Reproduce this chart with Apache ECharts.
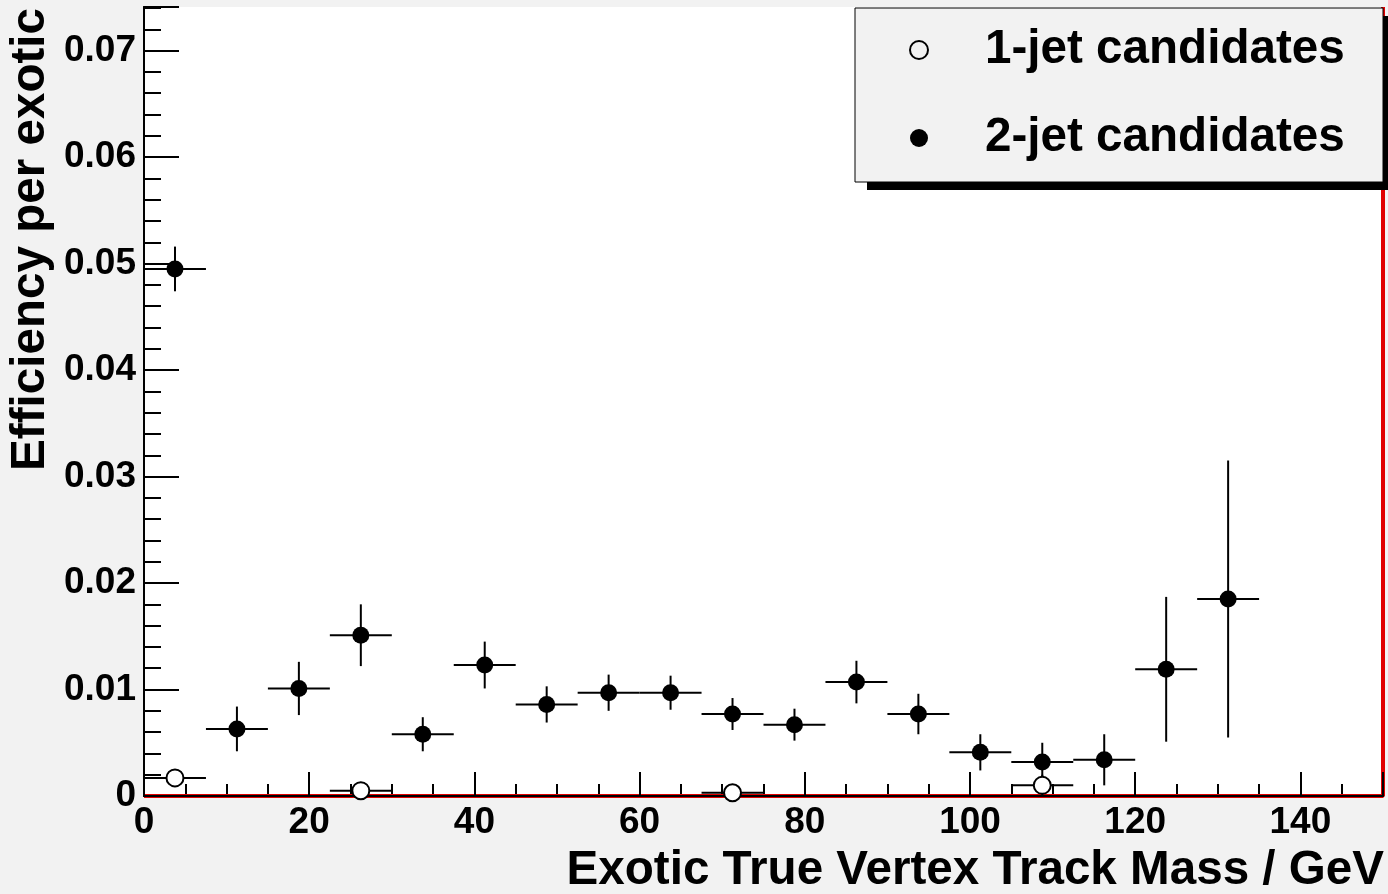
<!DOCTYPE html>
<html><head><meta charset="utf-8">
<script src="https://cdn.jsdelivr.net/npm/echarts@6/dist/echarts.min.js"></script>
<style>html,body{margin:0;padding:0;background:#f2f2f2;}#c{width:1388px;height:894px;}</style>
</head><body><div id="c"></div>
<script>
// ---- data ----
const massCenters2 = [3.75, 11.25, 18.75, 26.25, 33.75, 41.25, 48.75, 56.25, 63.75, 71.25, 78.75, 86.25, 93.75, 101.25, 108.75, 116.25, 123.75, 131.25];
const eff2 = [0.0495, 0.0063, 0.0101, 0.0151, 0.0058, 0.0123, 0.0086, 0.0097, 0.0097, 0.0077, 0.0067, 0.0107, 0.0077, 0.0041, 0.0032, 0.0034, 0.0119, 0.0185];
const err2 = [0.0021, 0.0021, 0.0025, 0.0029, 0.0016, 0.0022, 0.0017, 0.0017, 0.0016, 0.0015, 0.0015, 0.0020, 0.0019, 0.0017, 0.0018, 0.0024, 0.0068, 0.0130];
const massCenters1 = [3.75, 26.25, 71.25, 108.75];
const eff1 = [0.0017, 0.0005, 0.0003, 0.0010];
const err1 = [0.0003, 0.0004, 0.0003, 0.0010];
const binHalfWidth = 3.75;
const xTickLabels = ['0', '20', '40', '60', '80', '100', '120', '140'];
const yTickLabels = ['0', '0.01', '0.02', '0.03', '0.04', '0.05', '0.06', '0.07'];
const seriesNames = ['1-jet candidates', '2-jet candidates'];
const xTitle = 'Exotic True Vertex Track Mass / GeV';
const yTitle = 'Efficiency per exotic';
const xRange = [0, 150];
const yRange = [0, 0.0741];
// empty reference histogram outline (drawn in red)
const histOutline = [[0, 0], [150, 0], [150, 0.0741]];

const FONT = '"Liberation Sans", Arial, Helvetica, sans-serif';

function errData(xs, ys, es) {
  return xs.map((x, i) => [x, ys[i], binHalfWidth, es[i]]);
}
function renderErr(params, api) {
  const x = api.value(0), y = api.value(1), ex = api.value(2), ey = api.value(3);
  const l = api.coord([x - ex, y]), r = api.coord([x + ex, y]);
  const t = api.coord([x, y + ey]), b = api.coord([x, Math.max(y - ey, yRange[0])]);
  const st = {stroke: '#000', lineWidth: 2};
  return {type: 'group', children: [
    {type: 'line', shape: {x1: l[0], y1: l[1], x2: r[0], y2: r[1]}, style: st},
    {type: 'line', shape: {x1: t[0], y1: t[1], x2: b[0], y2: b[1]}, style: st}
  ]};
}
function isMultiple(v, step) { return Math.abs(v / step - Math.round(v / step)) < 1e-6; }

const chart = echarts.init(document.getElementById('c'), null, {renderer: 'canvas'});
const lblStyle = {fontSize: 37, fontWeight: 'bold', fontFamily: FONT, color: '#000'};
chart.setOption({
  animation: false,
  backgroundColor: '#f2f2f2',
  grid: {left: 144, right: 5, top: 7, bottom: 98, show: true, backgroundColor: '#fff', borderWidth: 0},
  xAxis: [
    {type: 'value', min: xRange[0], max: xRange[1], interval: 20, position: 'bottom', z: 3,
     axisLine: {show: true, lineStyle: {color: '#000', width: 2}},
     axisTick: {show: true, inside: true, length: 24, lineStyle: {color: '#000', width: 2}},
     splitLine: {show: false},
     axisLabel: Object.assign({margin: 8, formatter: v => isMultiple(v, 20) ? xTickLabels[Math.round(v / 20)] : ''}, lblStyle)},
    {type: 'value', min: xRange[0], max: xRange[1], interval: 5, position: 'bottom',
     axisLine: {show: false}, axisTick: {show: true, inside: true, length: 12, lineStyle: {color: '#000', width: 2}},
     splitLine: {show: false}, axisLabel: {show: false}},
    {type: 'value', min: xRange[0], max: xRange[1], position: 'top', z: 3,
     axisLine: {show: true, lineStyle: {color: '#000', width: 2}}, axisTick: {show: false},
     splitLine: {show: false}, axisLabel: {show: false}}
  ],
  yAxis: [
    {type: 'value', min: yRange[0], max: yRange[1], interval: 0.01, position: 'left', z: 3,
     axisLine: {show: true, lineStyle: {color: '#000', width: 2}},
     axisTick: {show: true, inside: true, length: 35, lineStyle: {color: '#000', width: 2}},
     splitLine: {show: false},
     axisLabel: Object.assign({margin: 8, formatter: v => isMultiple(v, 0.01) ? yTickLabels[Math.round(v / 0.01)] : ''}, lblStyle)},
    {type: 'value', min: yRange[0], max: yRange[1], interval: 0.002, position: 'left',
     axisLine: {show: false}, axisTick: {show: true, inside: true, length: 17, lineStyle: {color: '#000', width: 2}},
     splitLine: {show: false}, axisLabel: {show: false}},
    {type: 'value', min: yRange[0], max: yRange[1], position: 'right', z: 3,
     axisLine: {show: true, lineStyle: {color: '#000', width: 2}}, axisTick: {show: false},
     splitLine: {show: false}, axisLabel: {show: false}}
  ],
  legend: {
    orient: 'vertical', left: 855, top: 8, selectedMode: false, z: 30,
    padding: [18, 20, 21, 54], itemGap: 40, itemWidth: 122, itemHeight: 18,
    backgroundColor: 'transparent', borderWidth: 0,
    textStyle: {fontSize: 47.6, fontWeight: 'bold', fontFamily: FONT, color: '#000'},
    data: [
      {name: seriesNames[0], icon: 'circle', itemStyle: {color: 'rgba(0,0,0,0)', borderColor: '#000', borderWidth: 2}},
      {name: seriesNames[1], icon: 'circle', itemStyle: {color: '#000', borderWidth: 0}}
    ]
  },
  graphic: [
    // legend frame with ROOT-style drop shadow
    {type: 'rect', z: 20, shape: {x: 867, y: 16, width: 528, height: 174}, style: {fill: '#000'}},
    {type: 'rect', z: 21, shape: {x: 855, y: 8, width: 528, height: 174}, style: {fill: '#f2f2f2', stroke: '#000', lineWidth: 1}},
    {type: 'text', x: 1384, y: 871, z: 10,
     style: {text: xTitle, fontSize: 47.6, fontWeight: 'bold', fontFamily: FONT, fill: '#000', textAlign: 'right', textVerticalAlign: 'middle', verticalAlign: 'middle'}},
    {type: 'text', x: 31, y: 8, rotation: Math.PI / 2, z: 10,
     style: {text: yTitle, fontSize: 47.6, fontWeight: 'bold', fontFamily: FONT, fill: '#000', textAlign: 'right', textVerticalAlign: 'middle', verticalAlign: 'middle'}}
  ],
  series: [
    {name: 'hist', type: 'line', data: histOutline, symbol: 'none', z: 1, clip: true,
     lineStyle: {color: '#e00000', width: 4}, silent: true},
    {name: 'err2', type: 'custom', renderItem: renderErr, data: errData(massCenters2, eff2, err2), z: 4, silent: true},
    {name: seriesNames[1], type: 'scatter', symbol: 'circle', symbolSize: 17, z: 5,
     itemStyle: {color: '#000', opacity: 1}, data: massCenters2.map((x, i) => [x, eff2[i]])},
    {name: 'err1', type: 'custom', renderItem: renderErr, data: errData(massCenters1, eff1, err1), z: 4, silent: true},
    {name: seriesNames[0], type: 'scatter', symbol: 'circle', symbolSize: 17, z: 6,
     itemStyle: {color: '#fff', borderColor: '#000', borderWidth: 2, opacity: 1}, data: massCenters1.map((x, i) => [x, eff1[i]])}
  ]
});
</script></body></html>
